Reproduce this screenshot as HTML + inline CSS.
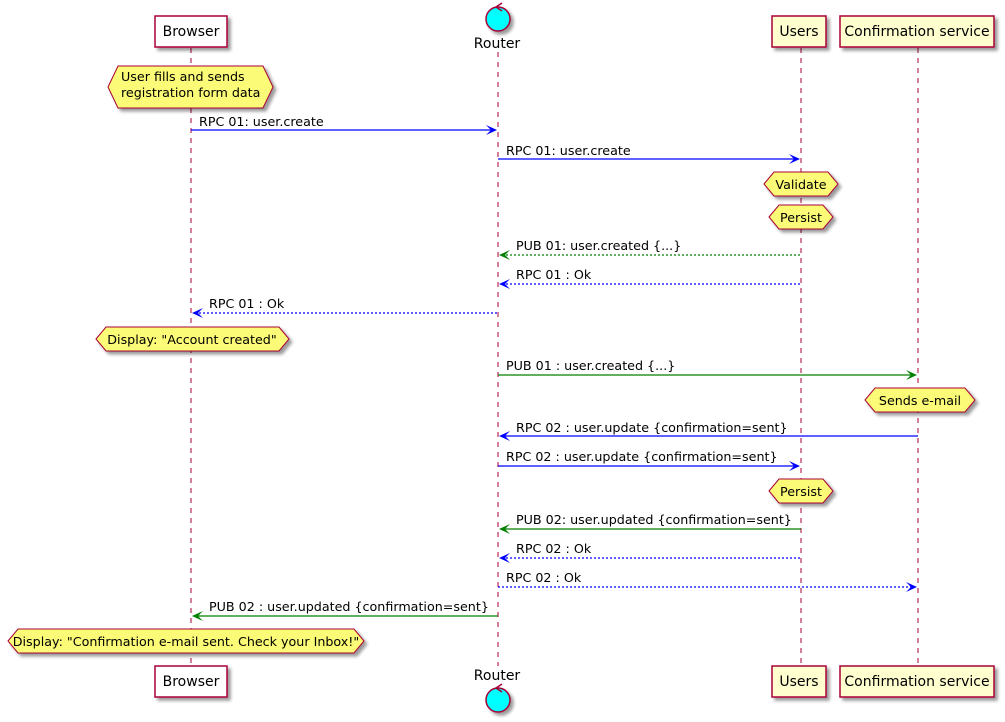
<!DOCTYPE html>
<html><head><meta charset="utf-8"><style>
html,body{margin:0;padding:0;background:#fff;}
svg{display:block;font-family:"DejaVu Sans","Liberation Sans",sans-serif;}
</style></head><body>
<svg width="1005" height="722" viewBox="0 0 1005 722" xmlns="http://www.w3.org/2000/svg">
<defs><filter id="sh" x="-10%" y="-10%" width="130%" height="140%"><feGaussianBlur in="SourceAlpha" stdDeviation="1.5"/><feOffset dx="3" dy="3"/><feComponentTransfer><feFuncA type="linear" slope="0.4"/></feComponentTransfer><feMerge><feMergeNode/><feMergeNode in="SourceGraphic"/></feMerge></filter></defs>
<g stroke="#A80036" stroke-width="1" stroke-dasharray="5,5">
<line x1="191" y1="48" x2="191" y2="666"/>
<line x1="498" y1="52" x2="498" y2="666"/>
<line x1="801" y1="48" x2="801" y2="666"/>
<line x1="918" y1="48" x2="918" y2="666"/>
</g>
<g fill="#fff" stroke="#A80036" stroke-width="1.5" filter="url(#sh)">
<rect x="155" y="16" width="72" height="31"/>
<rect x="155" y="666" width="72" height="31"/>
<rect x="772" y="16" width="54" height="31" fill="#FEFECE"/>
<rect x="772" y="666" width="54" height="31" fill="#FEFECE"/>
<rect x="840" y="16" width="154" height="31" fill="#FEFECE"/>
<rect x="840" y="666" width="154" height="31" fill="#FEFECE"/>
<circle cx="498" cy="19" r="12" fill="#00FFFF"/>
<circle cx="498" cy="700" r="12" fill="#00FFFF"/>
</g>
<g stroke="#A80036" stroke-width="1.5" fill="none">
<polyline points="502,3 496,7 502,11"/>
<polyline points="502,684 496,688 502,692"/>
</g>
<g font-size="14" fill="#000" text-anchor="middle">
<text x="191" y="36">Browser</text><text x="191" y="686">Browser</text>
<text x="799" y="36">Users</text><text x="799" y="686">Users</text>
<text x="917" y="36">Confirmation service</text><text x="917" y="686">Confirmation service</text>
<text x="497" y="48">Router</text><text x="497" y="680">Router</text>
</g>
<g fill="#FBFB77" stroke="#A80036" stroke-width="1" filter="url(#sh)">
<polygon points="108,87 118,66 263,66 273,87 263,108 118,108"/>
<polygon points="764,184 774,172 828,172 838,184 828,196 774,196"/>
<polygon points="769,217 779,205 823,205 833,217 823,229 779,229"/>
<polygon points="96,339 106,327 279,327 289,339 279,351 106,351"/>
<polygon points="865,400 875,388 965,388 975,400 965,412 875,412"/>
<polygon points="769,491 779,479 823,479 833,491 823,503 779,503"/>
<polygon points="8,641 18,629 354,629 364,641 354,653 18,653"/>
</g>
<g font-size="12.7" fill="#000">
<text x="121" y="81">User fills and sends</text>
<text x="121" y="97">registration form data</text>
<text x="801" y="189" text-anchor="middle">Validate</text>
<text x="801" y="222" text-anchor="middle">Persist</text>
<text x="192" y="344" text-anchor="middle">Display: "Account created"</text>
<text x="920" y="405" text-anchor="middle">Sends e-mail</text>
<text x="801" y="496" text-anchor="middle">Persist</text>
<text x="186" y="646" text-anchor="middle">Display: "Confirmation e-mail sent. Check your Inbox!"</text>
</g>
<g stroke-width="1.2">
<line x1="191" y1="130" x2="495" y2="130" stroke="#0000FF"/>
<line x1="498" y1="159" x2="798" y2="159" stroke="#0000FF"/>
<line x1="502" y1="255" x2="801" y2="255" stroke="#008000" stroke-dasharray="2,2"/>
<line x1="502" y1="284" x2="801" y2="284" stroke="#0000FF" stroke-dasharray="2,2"/>
<line x1="195" y1="313" x2="498" y2="313" stroke="#0000FF" stroke-dasharray="2,2"/>
<line x1="498" y1="375" x2="915" y2="375" stroke="#008000"/>
<line x1="502" y1="436" x2="918" y2="436" stroke="#0000FF"/>
<line x1="498" y1="466" x2="798" y2="466" stroke="#0000FF"/>
<line x1="502" y1="529" x2="801" y2="529" stroke="#008000"/>
<line x1="502" y1="558" x2="801" y2="558" stroke="#0000FF" stroke-dasharray="2,2"/>
<line x1="498" y1="587" x2="915" y2="587" stroke="#0000FF" stroke-dasharray="2,2"/>
<line x1="195" y1="616" x2="498" y2="616" stroke="#008000"/>
</g>
<g>
<polygon fill="#0000FF" points="497,130 486,125 491,130 486,135"/>
<polygon fill="#0000FF" points="800,159 789,154 794,159 789,164"/>
<polygon fill="#008000" points="499,255 510,250 505,255 510,260"/>
<polygon fill="#0000FF" points="499,284 510,279 505,284 510,289"/>
<polygon fill="#0000FF" points="192,313 203,308 198,313 203,318"/>
<polygon fill="#008000" points="917,375 906,370 911,375 906,380"/>
<polygon fill="#0000FF" points="499,436 510,431 505,436 510,441"/>
<polygon fill="#0000FF" points="800,466 789,461 794,466 789,471"/>
<polygon fill="#008000" points="499,529 510,524 505,529 510,534"/>
<polygon fill="#0000FF" points="499,558 510,553 505,558 510,563"/>
<polygon fill="#0000FF" points="917,587 906,582 911,587 906,592"/>
<polygon fill="#008000" points="192,616 203,611 198,616 203,621"/>
</g>
<g font-size="12.7" fill="#000">
<text x="199" y="126">RPC 01: user.create</text>
<text x="506" y="155">RPC 01: user.create</text>
<text x="516" y="250">PUB 01: user.created {...}</text>
<text x="516" y="279">RPC 01 : Ok</text>
<text x="209" y="308">RPC 01 : Ok</text>
<text x="506" y="370">PUB 01 : user.created {...}</text>
<text x="516" y="432">RPC 02 : user.update {confirmation=sent}</text>
<text x="506" y="461">RPC 02 : user.update {confirmation=sent}</text>
<text x="516" y="524">PUB 02: user.updated {confirmation=sent}</text>
<text x="516" y="553">RPC 02 : Ok</text>
<text x="506" y="582">RPC 02 : Ok</text>
<text x="209" y="611">PUB 02 : user.updated {confirmation=sent}</text>
</g>
</svg>
</body></html>
